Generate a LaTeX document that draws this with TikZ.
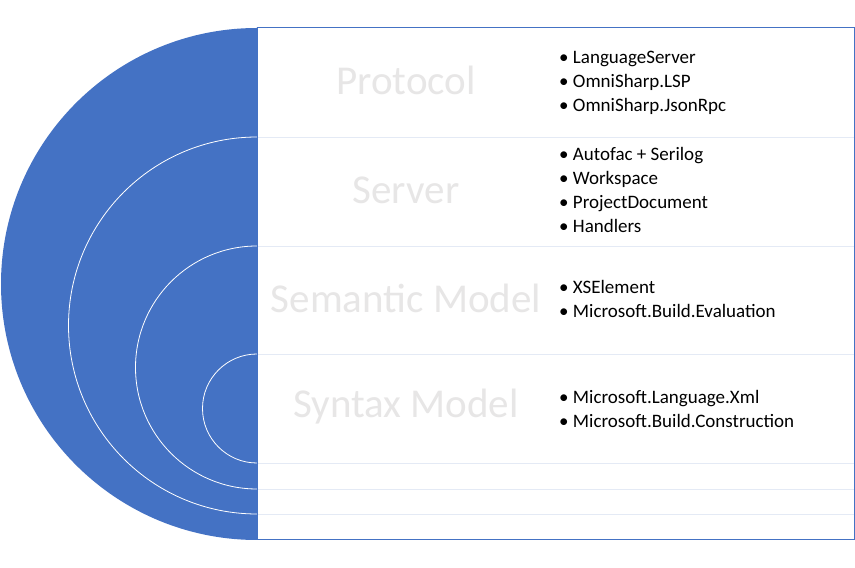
\documentclass[tikz,border=0pt]{standalone}
\usepackage{fontspec}
\setmainfont{Carlito}
\definecolor{ringblue}{HTML}{4472C4}
\definecolor{bandline}{HTML}{E4EAF5}
\definecolor{titlegray}{HTML}{E7E6E6}
\tikzset{
  bandtitle/.style={text=titlegray, font=\fontsize{41}{45}\selectfont, anchor=center},
  itemlist/.style={anchor=west, align=left, font=\fontsize{19}{24}\selectfont, inner sep=0pt}
}

\begin{document}
\begin{tikzpicture}[x=1pt,y=1pt]
\useasboundingbox (0,0) rectangle (855,568);
% big half disc
\fill [ringblue] (257,540) arc[start angle=90, end angle=270, radius=256] -- cycle;
% inner rings
\foreach \t/\r in {431/188.5, 322/121.5, 214/54.5} {%
    \draw [white, line width=0.8pt] (257,\t) arc[start angle=90, end angle=270, radius=\r];
}
% panel
\fill [white] (257,28) rectangle (854,540);
\foreach \y in {431, 322, 214, 105, 79, 54} {%
    \draw [bandline, line width=0.8pt] (257,\y) -- (854,\y);
}
\draw [ringblue, line width=1pt] (257,28) rectangle (854,540);
% band titles
\node [bandtitle] (protocol) at (406,487.5) {Protocol};
\node [bandtitle] (server) at (406,378) {Server};
\node [bandtitle] (semantic) at (406,270) {Semantic Model};
\node [bandtitle] (syntax) at (406,161) {Syntax Model};
% package lists
\node [itemlist] (protocolitems) at (559,485.5) {\textbullet\ LanguageServer\\ \textbullet\ OmniSharp.LSP\\ \textbullet\ OmniSharp.JsonRpc};
\node [itemlist] (serveritems) at (559,378) {\textbullet\ Autofac + Serilog\\ \textbullet\ Workspace\\ \textbullet\ ProjectDocument\\ \textbullet\ Handlers};
\node [itemlist] (semanticitems) at (559,269.5) {\textbullet\ XSElement\\ \textbullet\ Microsoft.Build.Evaluation};
\node [itemlist] (syntaxitems) at (559,159.5) {\textbullet\ Microsoft.Language.Xml\\ \textbullet\ Microsoft.Build.Construction};
\end{tikzpicture}
\end{document}
